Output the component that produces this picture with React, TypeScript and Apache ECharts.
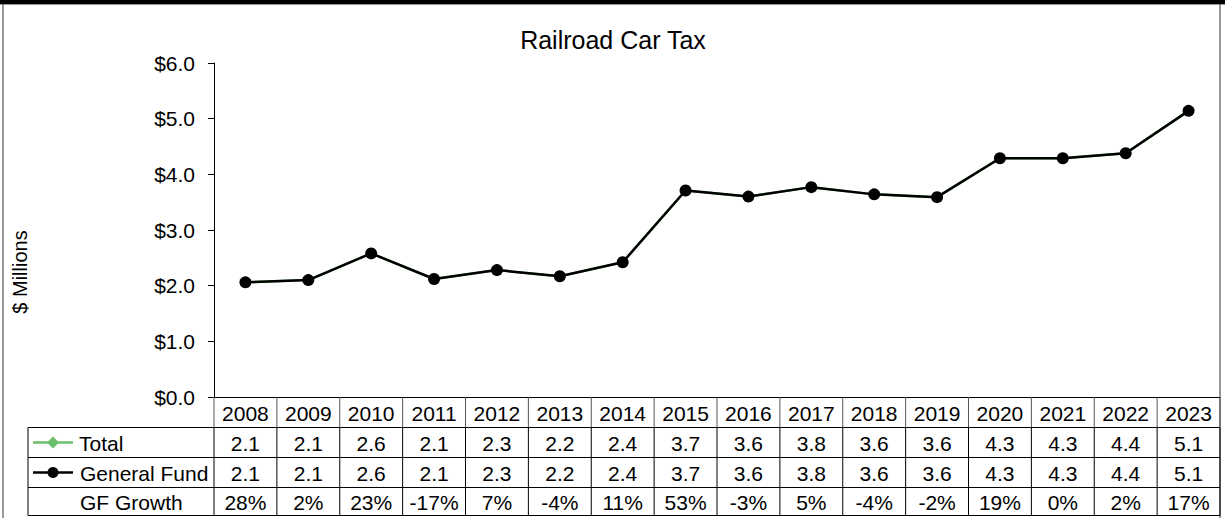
import React, { useEffect, useRef } from "react";
import * as echarts from "echarts";

const categories = ["2008", "2009", "2010", "2011", "2012", "2013", "2014", "2015", "2016", "2017", "2018", "2019", "2020", "2021", "2022", "2023"];
const totalValues = [2.06, 2.1, 2.58, 2.12, 2.28, 2.17, 2.42, 3.71, 3.6, 3.77, 3.64, 3.59, 4.29, 4.29, 4.38, 5.14];
const generalFundValues = [2.06, 2.1, 2.58, 2.12, 2.28, 2.17, 2.42, 3.71, 3.6, 3.77, 3.64, 3.59, 4.29, 4.29, 4.38, 5.14];
const gfGrowth = [28, 2, 23, -17, 7, -4, 11, 53, -3, 5, -4, -2, 19, 0, 2, 17];
const yTicks = { min: 0, max: 6, interval: 1 };
const titleText = "Railroad Car Tax";
const yAxisName = "$ Millions";
const rowLabels = ["Total", "General Fund", "GF Growth"];

const FONT = "Arial, 'Liberation Sans', sans-serif";
const GREEN = "#6cbf6a";

export default function App() {
  const ref = useRef<HTMLDivElement>(null);
  useEffect(() => {
    document.body.style.margin = "0";
    const chart = echarts.init(ref.current!, null, { renderer: "svg" });
    chart.setOption({
      animation: false,
      backgroundColor: "#fff",
      grid: { left: 214, right: 5, top: 63, bottom: 121, containLabel: false },
      xAxis: {
        type: "category",
        data: categories,
        boundaryGap: true,
        axisLine: { show: true, lineStyle: { color: "#000", width: 1 } },
        axisTick: { show: false },
        axisLabel: { show: false },
        splitLine: { show: false },
      },
      yAxis: {
        type: "value",
        min: yTicks.min,
        max: yTicks.max,
        interval: yTicks.interval,
        axisLine: { show: true, lineStyle: { color: "#000", width: 1 } },
        axisTick: { show: true, inside: false, length: 6, lineStyle: { color: "#000" } },
        axisLabel: {
          margin: 19,
          fontFamily: FONT,
          fontSize: 21,
          color: "#000",
          formatter: (v: number) => "$" + v.toFixed(1),
        },
        splitLine: { show: false },
      },
      series: [
        {
          name: "Total",
          type: "line",
          data: totalValues,
          symbol: "diamond",
          symbolSize: 10,
          lineStyle: { color: GREEN, width: 2.5 },
          itemStyle: { color: GREEN },
          z: 2,
        },
        {
          name: "General Fund",
          type: "line",
          data: generalFundValues,
          symbol: "circle",
          symbolSize: 12,
          lineStyle: { color: "#000", width: 2.5 },
          itemStyle: { color: "#000" },
          z: 3,
        },
      ],
    });

    const n = categories.length;
    const cx = (i: number) => chart.convertToPixel({ xAxisIndex: 0 }, i) as number;
    const y0 = chart.convertToPixel({ yAxisIndex: 0 }, 0) as number;
    const colW = cx(1) - cx(0);
    const xLeft = cx(0) - colW / 2;
    const xRight = cx(n - 1) + colW / 2;
    const labelLeft = 28;
    const rowTops = [y0, y0 + 30.5, y0 + 60.5, y0 + 90.5, y0 + 118.5];
    const rowMid = (r: number) => (rowTops[r] + rowTops[r + 1]) / 2;

    const g: any[] = [];
    const line = (x1: number, y1: number, x2: number, y2: number, color = "#000", w = 1) =>
      g.push({ type: "line", shape: { x1, y1, x2, y2 }, style: { stroke: color, lineWidth: w }, silent: true, z: 10 });
    const text = (t: string, x: number, y: number, align = "center", size = 21, extra: any = {}) =>
      g.push({
        type: "text",
        x,
        y,
        style: { text: t, fill: "#000", font: `${size}px ${FONT}`, align, verticalAlign: "middle" },
        silent: true,
        z: 11,
        ...extra,
      });

    // outer frame
    g.push({ type: "rect", shape: { x: 0, y: 0, width: 1225, height: 4 }, style: { fill: "#000" }, z: 12 });
    line(0, 4.5, 1225, 4.5, "#999");
    line(3, 4, 3, 518, "#333");
    line(xRight, 4, xRight, 518, "#333");

    // table horizontal lines
    for (let r = 1; r < rowTops.length; r++) line(labelLeft, rowTops[r], xRight, rowTops[r]);
    // label column left edge
    line(labelLeft, rowTops[1], labelLeft, rowTops[4]);
    // column lines
    for (let i = 0; i <= n; i++) {
      const x = xLeft + i * colW;
      line(x, y0, x, rowTops[1], "#555");
      line(x, rowTops[1], x, rowTops[4]);
    }

    // header (years) and table values
    categories.forEach((c, i) => text(c, cx(i), rowMid(0) + 1));
    totalValues.forEach((v, i) => text(v.toFixed(1), cx(i), rowMid(1) + 1));
    generalFundValues.forEach((v, i) => text(v.toFixed(1), cx(i), rowMid(2) + 1));
    gfGrowth.forEach((v, i) => text(v + "%", cx(i), rowMid(3) + 1));

    // legend keys
    line(33, rowMid(1), 73, rowMid(1), GREEN, 2.5);
    g.push({
      type: "polygon",
      shape: { points: [[53, rowMid(1) - 6], [59, rowMid(1)], [53, rowMid(1) + 6], [47, rowMid(1)]] },
      style: { fill: GREEN },
      z: 11,
    });
    line(33, rowMid(2), 73, rowMid(2), "#000", 2.5);
    g.push({ type: "circle", shape: { cx: 53, cy: rowMid(2), r: 5.5 }, style: { fill: "#000" }, z: 11 });

    text(rowLabels[0], 79, rowMid(1) + 1, "left");
    text(rowLabels[1], 80, rowMid(2) + 1, "left");
    text(rowLabels[2], 80, rowMid(3) + 1, "left");

    // title and y axis name
    text(titleText, 613, 40, "center", 25);
    text(yAxisName, 20, 272, "center", 20, { rotation: Math.PI / 2 });

    chart.setOption({ graphic: { elements: g } });

    return () => chart.dispose();
  }, []);
  return <div ref={ref} style={{ width: 1225, height: 518 }} />;
}
